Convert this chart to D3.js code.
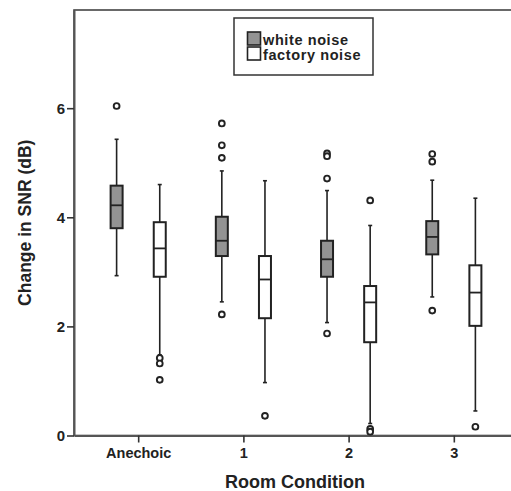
<!DOCTYPE html>
<html>
<head>
<meta charset="utf-8">
<script src="https://cdn.jsdelivr.net/npm/d3@7"></script>
<style>
  body { margin: 0; background: #fff; }
  svg { display: block; font-family: "Liberation Sans", Arial, sans-serif; }
</style>
</head>
<body>
<svg width="511" height="491"></svg>
<script>
// room conditions on the x axis
const categories = ["Anechoic", "1", "2", "3"];
const seriesNames = ["white noise", "factory noise"];
const seriesFill = ["#939393", "#ffffff"];
const yTicks = [0, 2, 4, 6];

// box stats: lo whisker, q1, median, q3, hi whisker, outliers
const whiteNoise = [
    {lo: 2.93, q1: 3.80, med: 4.22, q3: 4.58, hi: 5.43, out: [6.04]},
    {lo: 2.45, q1: 3.29, med: 3.57, q3: 4.01, hi: 4.85, out: [5.72, 5.32, 5.09, 2.22]},
    {lo: 2.07, q1: 2.91, med: 3.23, q3: 3.57, hi: 4.49, out: [5.17, 5.12, 4.71, 1.87]},
    {lo: 2.54, q1: 3.32, med: 3.64, q3: 3.93, hi: 4.68, out: [5.16, 5.02, 2.29]}
];
const factoryNoise = [
    {lo: 1.48, q1: 2.91, med: 3.43, q3: 3.91, hi: 4.60, out: [1.42, 1.32, 1.02]},
    {lo: 0.97, q1: 2.15, med: 2.86, q3: 3.29, hi: 4.67, out: [0.36]},
    {lo: 0.22, q1: 1.71, med: 2.44, q3: 2.74, hi: 3.85, out: [4.31, 0.12, 0.07]},
    {lo: 0.45, q1: 2.01, med: 2.62, q3: 3.12, hi: 4.35, out: [0.16]}
];
const allSeries = [whiteNoise, factoryNoise];

const svg = d3.select("svg");
const plotL = 74, plotR = 518, plotT = 10, plotB = 435.5;

const x = d3.scalePoint().domain(categories).range([plotL, plotR]).padding(0.61);
const sub = d3.scaleBand().domain(seriesNames).range([-x.step() * 0.41, x.step() * 0.41]);
const y = d3.scaleLinear().domain([0, 7.8]).range([plotB, plotT]);
const boxW = 12, capW = 4;
const ink = "#222";

// frame (right side runs off the picture like in the original)
svg.append("rect")
    .attr("x", plotL).attr("y", plotT)
    .attr("width", plotR - plotL).attr("height", plotB - plotT)
    .attr("fill", "none").attr("stroke", "#444").attr("stroke-width", 1.6);

// axes
const yAxis = svg.append("g")
    .attr("transform", "translate(" + plotL + ",0)")
    .call(d3.axisLeft(y).tickValues(yTicks).tickSize(7).tickSizeOuter(0).tickPadding(2));
const xAxis = svg.append("g")
    .attr("transform", "translate(0," + plotB + ")")
    .call(d3.axisBottom(x).tickSize(7).tickSizeOuter(0).tickPadding(5));
[yAxis, xAxis].forEach(function(a) {
    a.select(".domain").attr("stroke", "#555").attr("stroke-width", 2);
    a.selectAll(".tick line").attr("stroke", "#333").attr("stroke-width", 1.6);
    a.selectAll(".tick text").attr("fill", ink).attr("font-weight", "bold")
        .attr("font-family", "Liberation Sans, Arial, sans-serif");
});
yAxis.selectAll(".tick text").attr("font-size", 15);
xAxis.selectAll(".tick text").attr("font-size", 14.5);

// axis titles
svg.append("text")
    .attr("transform", "rotate(-90)")
    .attr("x", -(plotT + plotB) / 2).attr("y", 31)
    .attr("text-anchor", "middle")
    .attr("font-size", 17.5).attr("font-weight", "bold").attr("fill", ink)
    .text("Change in SNR (dB)");
svg.append("text")
    .attr("x", 295).attr("y", 488)
    .attr("text-anchor", "middle")
    .attr("font-size", 18).attr("font-weight", "bold").attr("fill", ink)
    .text("Room Condition");

// boxes
allSeries.forEach(function(series, si) {
    const g = svg.append("g");
    series.forEach(function(d, ci) {
        const cx = x(categories[ci]) + sub(seriesNames[si]) + sub.bandwidth() / 2;
        const bg = g.append("g").attr("stroke", ink).attr("stroke-width", 1.6);
        // whiskers
        bg.append("line").attr("x1", cx).attr("x2", cx).attr("y1", y(d.hi)).attr("y2", y(d.q3));
        bg.append("line").attr("x1", cx).attr("x2", cx).attr("y1", y(d.q1)).attr("y2", y(d.lo));
        bg.append("line").attr("x1", cx - capW / 2).attr("x2", cx + capW / 2).attr("y1", y(d.hi)).attr("y2", y(d.hi));
        bg.append("line").attr("x1", cx - capW / 2).attr("x2", cx + capW / 2).attr("y1", y(d.lo)).attr("y2", y(d.lo));
        // box
        bg.append("rect")
            .attr("x", cx - boxW / 2).attr("y", y(d.q3))
            .attr("width", boxW).attr("height", y(d.q1) - y(d.q3))
            .attr("fill", seriesFill[si]).attr("stroke-width", 2);
        bg.append("line").attr("x1", cx - boxW / 2).attr("x2", cx + boxW / 2)
            .attr("y1", y(d.med)).attr("y2", y(d.med)).attr("stroke-width", 1.8);
        // outliers
        bg.selectAll("circle").data(d.out).enter().append("circle")
            .attr("cx", cx).attr("cy", function(v) { return y(v); })
            .attr("r", 2.9).attr("fill", "#fff").attr("stroke-width", 1.9);
    });
});

// legend
const leg = svg.append("g");
leg.append("rect").attr("x", 234).attr("y", 18).attr("width", 139).attr("height", 57)
    .attr("fill", "#fff").attr("stroke", "#333").attr("stroke-width", 1.5);
seriesNames.forEach(function(name, i) {
    leg.append("rect")
        .attr("x", 247.5).attr("y", 32 + i * 15)
        .attr("width", 13).attr("height", 13)
        .attr("fill", seriesFill[i]).attr("stroke", ink).attr("stroke-width", 1.6);
    leg.append("text")
        .attr("x", 263).attr("y", 44.5 + i * 15)
        .attr("font-size", 14.5).attr("letter-spacing", 0.6)
        .attr("font-weight", "bold").attr("fill", ink)
        .text(name);
});
</script>
</body>
</html>
